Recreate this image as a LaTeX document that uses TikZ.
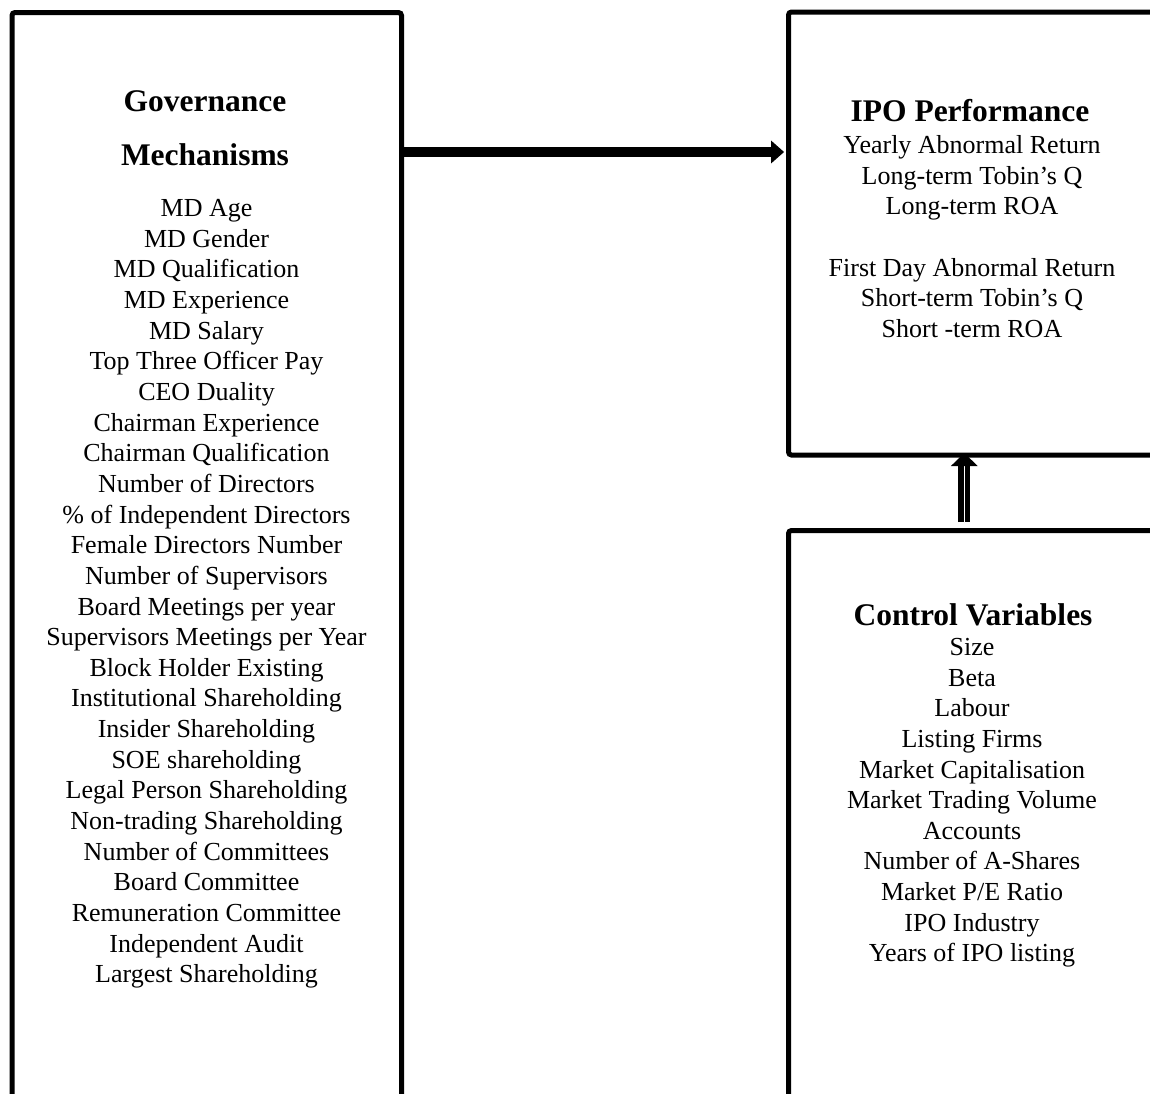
\documentclass[tikz,border=0pt]{standalone}
\usepackage{fontspec}
\setmainfont{Liberation Serif}
\usetikzlibrary{arrows.meta,fit}

\tikzset{
  box/.style={draw=black, line width=2.5pt, rounded corners=1.5pt, inner sep=0pt, outer sep=0pt},
  head/.style={inner sep=0pt, anchor=base, font=\fontsize{15.75}{18}\selectfont\bfseries},
  item/.style={inner sep=0pt, anchor=base, font=\fontsize{13}{15.3}\selectfont},
  mainarrow/.style={line width=5pt, -{Triangle[width=11pt,length=6.5pt]}},
  ctrlarrow/.style={line width=2.8pt, double distance=0.4pt, -{Triangle[width=13pt,length=6.5pt]}}
}

\begin{document}
\begin{tikzpicture}[x=0.5pt,y=-0.5pt]
  \useasboundingbox (0,0) rectangle (1150,1093);
  \clip (0,0) rectangle (1150,1093);

  % boxes
  \node[box, fit={(12,12.5) (401.5,1200)}] (gov) {};
  \node[box, fit={(788.5,12) (1200,455)}] (ipo) {};
  \node[box, fit={(788.5,530.5) (1200,1200)}] (ctrl) {};

  % governance mechanisms
  \node[head] (govhead1) at (205,111.7) {Governance};
  \node[head] (govhead2) at (205,165) {Mechanisms};
  \foreach \t [count=\i] in {MD Age, MD Gender, MD Qualification, MD Experience,
    MD Salary, Top Three Officer Pay, CEO Duality, Chairman Experience,
    Chairman Qualification, Number of Directors, \% of Independent Directors,
    Female Directors Number, Number of Supervisors, Board Meetings per year,
    Supervisors Meetings per Year, Block Holder Existing, Institutional Shareholding,
    Insider Shareholding, SOE shareholding, Legal Person Shareholding,
    Non-trading Shareholding, Number of Committees, Board Committee,
    Remuneration Committee, Independent Audit, Largest Shareholding}
    \node[item] (gov-\i) at (206.5,{216.7+30.64*(\i-1)}) {\t};

  % IPO performance
  \node[head] (ipohead) at (970,121.7) {IPO Performance};
  \foreach \t/\yy [count=\i] in {Yearly Abnormal Return/153.5, Long-term Tobin’s Q/184.2,
    Long-term ROA/214.8, First Day Abnormal Return/276.1,
    Short-term Tobin’s Q/306.8, Short -term ROA/337.4}
    \node[item] (ipo-\i) at (972,\yy) {\t};

  % control variables
  \node[head] (ctrlhead) at (973,625) {Control Variables};
  \foreach \t [count=\i] in {Size, Beta, Labour, Listing Firms, Market Capitalisation,
    Market Trading Volume, Accounts, Number of A-Shares, Market P/E Ratio,
    IPO Industry, Years of IPO listing}
    \node[item] (ctrl-\i) at (972,{655.5+30.64*(\i-1)}) {\t};

  % connectors
  \draw[mainarrow, shorten >=2.2pt] (gov.east |- 0,152) -- (ipo.west |- 0,152);
  \draw[ctrlarrow, shorten <=4.2pt, shorten >=-1pt] (ctrl.north -| 964.3,0) -- (ipo.south -| 964.3,0);
\end{tikzpicture}
\end{document}
